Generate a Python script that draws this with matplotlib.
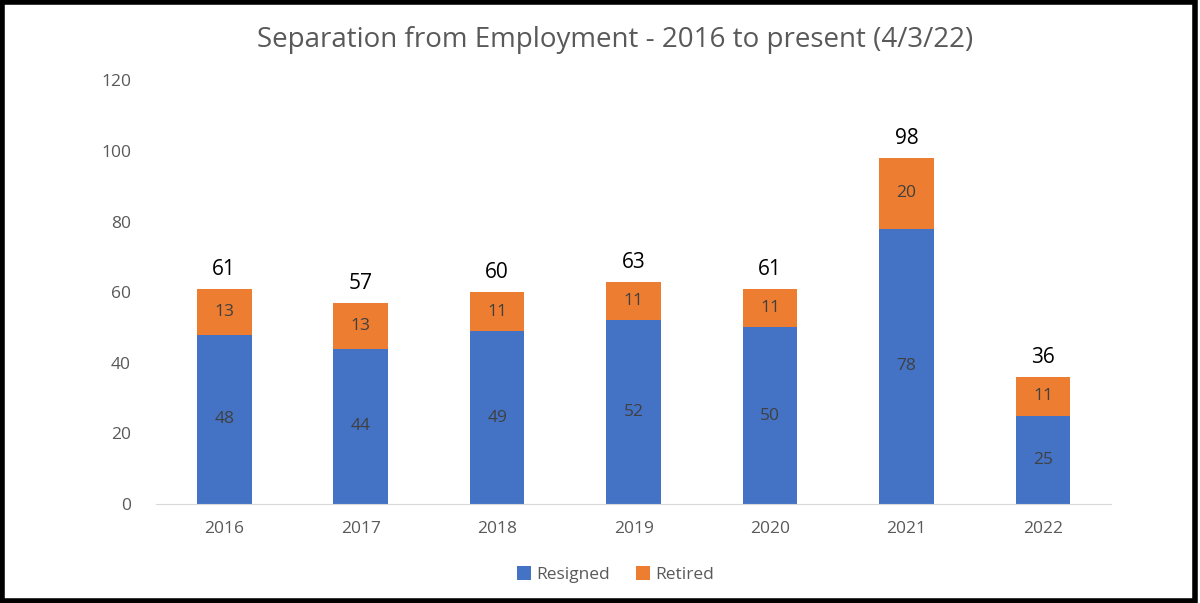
import matplotlib.pyplot as plt
import numpy as np

years = ["2016", "2017", "2018", "2019", "2020", "2021", "2022"]
resigned = [48, 44, 49, 52, 50, 78, 25]
retired = [13, 13, 11, 11, 11, 20, 11]
totals = [61, 57, 60, 63, 61, 98, 36]

plt.rcParams['font.family'] = ['Open Sans', 'DejaVu Sans']

fig = plt.figure(figsize=(12, 6.03), dpi=100)
ax = fig.add_axes([0.13, 0.164, 0.796, 0.703])

x = np.arange(len(years))
w = 0.4
b1 = ax.bar(x, resigned, w, color="#4472C4", label="Resigned")
b2 = ax.bar(x, retired, w, bottom=resigned, color="#ED7D31", label="Retired")

for i in range(len(years)):
    ax.text(x[i], resigned[i] / 2, str(resigned[i]), ha="center", va="center",
            fontsize=12.5, color="#404040")
    ax.text(x[i], resigned[i] + retired[i] / 2, str(retired[i]), ha="center",
            va="center", fontsize=12.5, color="#404040")
    ax.text(x[i], totals[i] + 2.5, str(totals[i]), ha="center", va="bottom",
            fontsize=15, color="black")

ax.set_xlim(-0.5, len(years) - 0.5)
ax.set_ylim(0, 120)
ax.set_yticks(range(0, 121, 20))
ax.set_xticks(x)
ax.set_xticklabels(years)
ax.tick_params(axis="both", length=0, labelsize=12.5, colors="#595959")
ax.tick_params(axis="y", pad=18)
ax.tick_params(axis="x", pad=12)
for s in ["top", "right", "left"]:
    ax.spines[s].set_visible(False)
ax.spines["bottom"].set_color("#d9d9d9")

fig.text(0.513, 0.933, "Separation from Employment - 2016 to present (4/3/22)",
         ha="center", va="center", fontsize=20, color="#595959")

fig.legend(loc="center", bbox_to_anchor=(0.513, 0.047), ncol=2, frameon=False,
           fontsize=12.5, handlelength=0.8, handleheight=0.8, handletextpad=0.3,
           columnspacing=1.5, labelcolor="#595959")

# black frame around the picture
fig.patches.append(plt.Rectangle((0.0015, 0.0025), 0.994, 0.994, transform=fig.transFigure,
                                 fill=False, edgecolor="black", linewidth=4))

fig.savefig("out.png", dpi=100)
